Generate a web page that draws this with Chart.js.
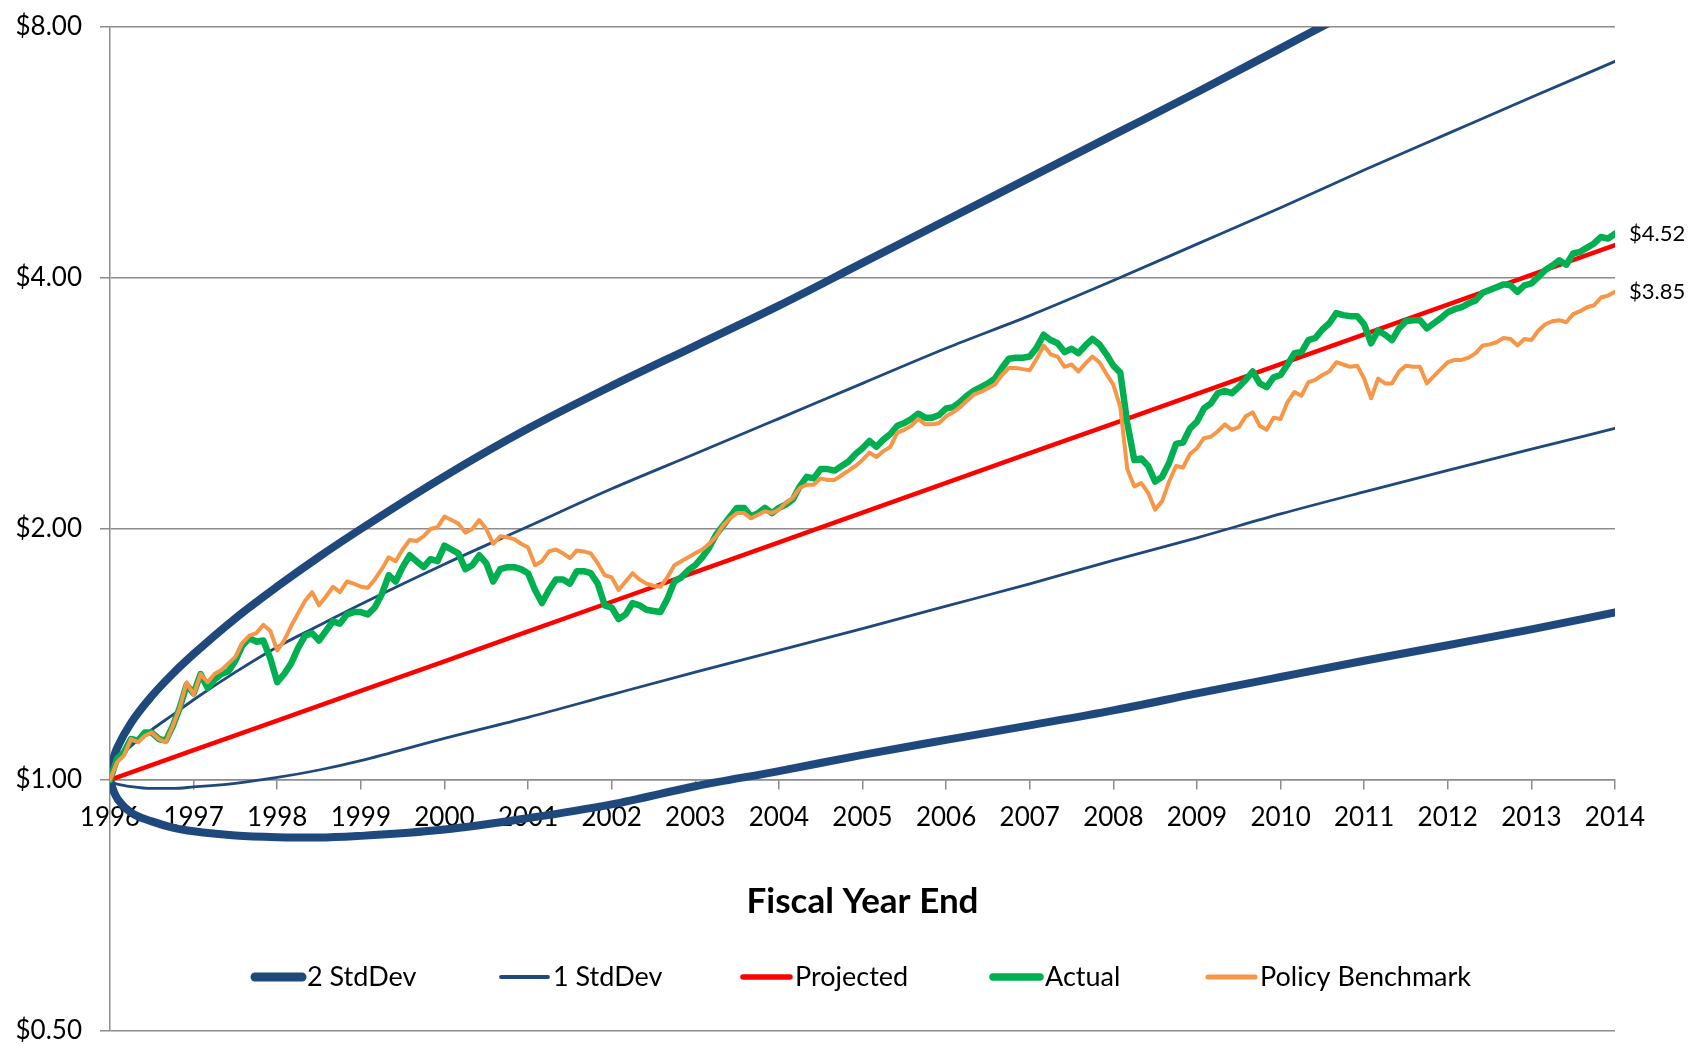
<!DOCTYPE html>
<html>
<head>
<meta charset="utf-8">
<title>Fiscal Year End</title>
<script src="https://cdn.jsdelivr.net/npm/chart.js@4.4.1/dist/chart.umd.min.js"></script>
<style>
  html, body { margin: 0; padding: 0; background: #fff; }
  #wrap { width: 1688px; height: 1044px; position: relative; }
</style>
</head>
<body>
<div id="wrap"><canvas id="growthChart"></canvas></div>
<script>
// growth of $1, fiscal year end 1996 .. 2014
const startYear = 1996
const endYear = 2014
const yTicks = [0.5, 1, 2, 4, 8]

// monthly values, one row per fiscal year
const actual = [
  1.00, 1.06, 1.08, 1.12, 1.115, 1.14, 1.14, 1.12, 1.115, 1.16, 1.22, 1.30,
  1.27, 1.34, 1.29, 1.32, 1.34, 1.35, 1.39, 1.45, 1.48, 1.465, 1.47, 1.40,
  1.31, 1.34, 1.38, 1.44, 1.49, 1.50, 1.47, 1.51, 1.55, 1.54, 1.58, 1.59,
  1.59, 1.58, 1.61, 1.67, 1.76, 1.73, 1.80, 1.86, 1.83, 1.80, 1.84, 1.83,
  1.91, 1.89, 1.87, 1.79, 1.81, 1.86, 1.82, 1.73, 1.79, 1.80, 1.80, 1.79,
  1.77, 1.69, 1.63, 1.69, 1.74, 1.74, 1.72, 1.78, 1.78, 1.77, 1.72, 1.62,
  1.61, 1.56, 1.58, 1.63, 1.62, 1.60, 1.595, 1.59, 1.65, 1.73, 1.75, 1.785,
  1.81, 1.85, 1.90, 1.97, 2.02, 2.07, 2.12, 2.12, 2.07, 2.09, 2.12, 2.09,
  2.12, 2.14, 2.17, 2.25, 2.31, 2.30, 2.36, 2.36, 2.35, 2.38, 2.41, 2.46,
  2.50, 2.55, 2.51, 2.56, 2.60, 2.66, 2.68, 2.71, 2.75, 2.72, 2.72, 2.74,
  2.79, 2.80, 2.84, 2.89, 2.93, 2.96, 2.99, 3.03, 3.12, 3.20, 3.21, 3.21,
  3.22, 3.30, 3.42, 3.37, 3.34, 3.26, 3.29, 3.25, 3.32, 3.38, 3.33, 3.24,
  3.14, 3.08, 2.68, 2.42, 2.43, 2.38, 2.28, 2.31, 2.40, 2.53, 2.54, 2.64,
  2.69, 2.79, 2.83, 2.91, 2.93, 2.91, 2.96, 3.02, 3.09, 2.99, 2.96, 3.04,
  3.06, 3.15, 3.25, 3.26, 3.37, 3.39, 3.47, 3.53, 3.63, 3.61, 3.60, 3.60,
  3.52, 3.34, 3.46, 3.42, 3.37, 3.48, 3.55, 3.56, 3.56, 3.48, 3.53, 3.58,
  3.64, 3.67, 3.69, 3.73, 3.76, 3.84, 3.87, 3.90, 3.93, 3.92, 3.85, 3.92,
  3.94, 4.01, 4.09, 4.14, 4.20, 4.15, 4.28, 4.30, 4.35, 4.40, 4.48, 4.46,
  4.52
]

const policy = [
  1.00, 1.05, 1.07, 1.12, 1.11, 1.13, 1.14, 1.12, 1.11, 1.16, 1.22, 1.31,
  1.265, 1.34, 1.31, 1.34, 1.355, 1.38, 1.405, 1.46, 1.49, 1.50, 1.535, 1.51,
  1.43, 1.47, 1.53, 1.585, 1.64, 1.68, 1.62, 1.66, 1.705, 1.68, 1.73, 1.72,
  1.705, 1.70, 1.74, 1.79, 1.85, 1.83, 1.89, 1.94, 1.935, 1.96, 2.00, 2.01,
  2.07, 2.05, 2.03, 1.98, 2.00, 2.05, 2.00, 1.92, 1.96, 1.955, 1.945, 1.92,
  1.90, 1.81, 1.83, 1.88, 1.89, 1.87, 1.845, 1.885, 1.88, 1.87, 1.82, 1.76,
  1.75, 1.69, 1.73, 1.77, 1.74, 1.72, 1.71, 1.705, 1.75, 1.81, 1.83, 1.85,
  1.87, 1.89, 1.92, 1.96, 2.02, 2.06, 2.09, 2.09, 2.06, 2.08, 2.10, 2.09,
  2.11, 2.15, 2.18, 2.24, 2.26, 2.26, 2.30, 2.29, 2.29, 2.32, 2.35, 2.38,
  2.42, 2.47, 2.44, 2.48, 2.51, 2.61, 2.63, 2.66, 2.71, 2.67, 2.67, 2.68,
  2.73, 2.76, 2.80, 2.85, 2.90, 2.92, 2.95, 2.98, 3.06, 3.12, 3.12, 3.11,
  3.10, 3.20, 3.32, 3.24, 3.22, 3.13, 3.15, 3.09, 3.16, 3.22, 3.17, 3.07,
  2.98, 2.80, 2.36, 2.25, 2.27, 2.21, 2.11, 2.16, 2.28, 2.38, 2.37, 2.46,
  2.50, 2.57, 2.58, 2.62, 2.67, 2.63, 2.65, 2.73, 2.76, 2.66, 2.63, 2.72,
  2.71, 2.84, 2.92, 2.89, 3.00, 3.02, 3.06, 3.09, 3.17, 3.15, 3.13, 3.14,
  3.03, 2.87, 3.03, 2.99, 2.99, 3.09, 3.14, 3.13, 3.13, 2.99, 3.05, 3.11,
  3.17, 3.19, 3.19, 3.21, 3.25, 3.32, 3.33, 3.35, 3.39, 3.38, 3.32, 3.38,
  3.37, 3.46, 3.52, 3.55, 3.56, 3.54, 3.62, 3.65, 3.69, 3.71, 3.79, 3.81,
  3.85
]

// projected value at each fiscal year end
const projected = [1.000, 1.086, 1.178, 1.279, 1.388, 1.507, 1.636, 1.776, 1.928, 2.093,
  2.271, 2.466, 2.676, 2.905, 3.154, 3.423, 3.716, 4.034, 4.379]

// standard deviation bands, read at these offsets (years after start)
const bandOffsets = [0, 0.05, 0.1, 0.25, 0.5, 0.75, 1, 1.5, 2, 2.5, 3,
  4, 5, 6, 7, 8, 9, 10, 11, 12, 13, 14, 15, 16, 17, 18]
const upper2 = [1, 1.068, 1.100, 1.170, 1.261, 1.341, 1.416, 1.563, 1.706, 1.852, 2.000,
  2.313, 2.639, 2.969, 3.317, 3.706, 4.170, 4.691, 5.278, 5.938, 6.680, 7.542, 8.515, 9.58, 10.78, 12.13]
const upper1 = [1, 1.042, 1.061, 1.098, 1.149, 1.197, 1.248, 1.347, 1.444, 1.532, 1.625,
  1.815, 2.014, 2.235, 2.462, 2.713, 2.990, 3.294, 3.605, 3.972, 4.392, 4.857, 5.389, 5.959, 6.588, 7.275]
const lower1 = [1, 0.992, 0.988, 0.982, 0.977, 0.977, 0.981, 0.991, 1.007, 1.028, 1.055,
  1.122, 1.189, 1.266, 1.347, 1.430, 1.519, 1.616, 1.719, 1.834, 1.952, 2.085, 2.216, 2.351, 2.493, 2.641]
const lower2 = [1, 0.966, 0.946, 0.914, 0.892, 0.877, 0.868, 0.858, 0.854, 0.853, 0.857,
  0.872, 0.900, 0.935, 0.983, 1.025, 1.072, 1.117, 1.163, 1.212, 1.270, 1.329, 1.390, 1.451, 1.516, 1.588]

const navy = '#1F497D'
const gridGray = '#8c8c8c'

const monthly = vals => vals.map((v, i) => ({ x: startYear + i / 12, y: v }))
const band = vals => vals.map((v, i) => ({ x: startYear + bandOffsets[i], y: v }))
const yearly = vals => vals.map((v, i) => ({ x: startYear + i, y: v }))

// legend drawn inside the plot, under the axis title
const bottomLegend = {
  id: 'bottomLegend',
  afterDraw(chart, args, opts) {
    const { ctx } = chart
    const seen = new Set()
    const items = chart.data.datasets.filter(ds => {
      if (seen.has(ds.label)) return false
      seen.add(ds.label)
      return true
    })
    ctx.save()
    ctx.font = opts.font
    ctx.textBaseline = 'middle'
    ctx.lineCap = 'round'
    items.forEach((ds, i) => {
      const x = opts.starts[i]
      ctx.strokeStyle = ds.borderColor
      ctx.lineWidth = ds.borderWidth + 1
      ctx.beginPath()
      ctx.moveTo(x + 4, opts.y)
      ctx.lineTo(x + 51, opts.y)
      ctx.stroke()
      ctx.fillStyle = '#000'
      ctx.fillText(ds.label, x + 56, opts.y)
    })
    ctx.restore()
  }
}

// value labels at the end of the actual and benchmark lines
const endLabels = {
  id: 'endLabels',
  afterDatasetsDraw(chart, args, opts) {
    const { ctx } = chart
    ctx.save()
    ctx.font = opts.font
    ctx.fillStyle = '#000'
    ctx.textBaseline = 'middle'
    chart.data.datasets.forEach((ds, i) => {
      if (!ds.endLabel) return
      const meta = chart.getDatasetMeta(i)
      const pt = meta.data[meta.data.length - 1]
      const v = ds.data[ds.data.length - 1].y
      ctx.fillText('$' + v.toFixed(2), pt.x + opts.offset, pt.y)
    })
    ctx.restore()
  }
}

Chart.defaults.font.family = "Lato, 'Open Sans', sans-serif"
Chart.defaults.color = '#000'

const context = document.getElementById('growthChart')

const chart = new Chart(context, {
  type: 'line',
  data: {
    datasets: [
      { label: '2 StdDev', data: band(upper2), borderColor: navy, borderWidth: 8, order: 5, cubicInterpolationMode: 'monotone' },
      { label: '2 StdDev', data: band(lower2), borderColor: navy, borderWidth: 8, order: 5, cubicInterpolationMode: 'monotone' },
      { label: '1 StdDev', data: band(upper1), borderColor: navy, borderWidth: 2.8, order: 4, cubicInterpolationMode: 'monotone' },
      { label: '1 StdDev', data: band(lower1), borderColor: navy, borderWidth: 2.8, order: 4, cubicInterpolationMode: 'monotone' },
      { label: 'Projected', data: yearly(projected), borderColor: '#FF0000', borderWidth: 4.5, order: 3 },
      { label: 'Actual', data: monthly(actual), borderColor: '#00B050', borderWidth: 6.5, order: 2, endLabel: true },
      { label: 'Policy Benchmark', data: monthly(policy), borderColor: '#F79646', borderWidth: 4, order: 1, endLabel: true }
    ]
  },
  options: {
    responsive: true,
    maintainAspectRatio: false,
    animation: false,
    events: [],
    elements: {
      point: { radius: 0 },
      line: { fill: false, borderJoinStyle: 'round', borderCapStyle: 'round', tension: 0 }
    },
    layout: { padding: { top: 27, right: 73, bottom: 13, left: 0 } },
    scales: {
      x: {
        type: 'linear',
        position: { y: 1 },
        min: startYear,
        max: endYear,
        ticks: {
          stepSize: 1,
          autoSkip: false,
          maxRotation: 0,
          padding: 13,
          font: { size: 26 },
          callback: v => String(Math.round(v))
        },
        grid: { drawOnChartArea: false, drawTicks: true, tickLength: 9, color: gridGray, lineWidth: 1.5 },
        border: { color: gridGray, width: 1.5 },
        title: {
          display: true,
          text: 'Fiscal Year End',
          font: { size: 35, weight: 'bold' },
          padding: { top: 35, bottom: 0 }
        }
      },
      y: {
        type: 'logarithmic',
        min: 0.5,
        max: 8,
        afterBuildTicks: scale => { scale.ticks = yTicks.map(v => ({ value: v })) },
        afterFit: scale => {
          scale.width = 110
          scale.paddingTop = 13
          scale.paddingBottom = 13
        },
        ticks: {
          padding: 18,
          font: { size: 26, lineHeight: 1 },
          callback: v => '$' + Number(v).toFixed(2)
        },
        grid: { color: gridGray, lineWidth: 1.5, tickLength: 10 },
        border: { color: gridGray, width: 1.5 }
      }
    },
    plugins: {
      legend: { display: false },
      tooltip: { enabled: false },
      bottomLegend: { starts: [251, 497, 739, 989, 1204], y: 977, font: "27px Lato, 'Open Sans', sans-serif" },
      endLabels: { offset: 14, font: "22px Lato, 'Open Sans', sans-serif" }
    }
  },
  plugins: [bottomLegend, endLabels]
})
</script>
</body>
</html>
